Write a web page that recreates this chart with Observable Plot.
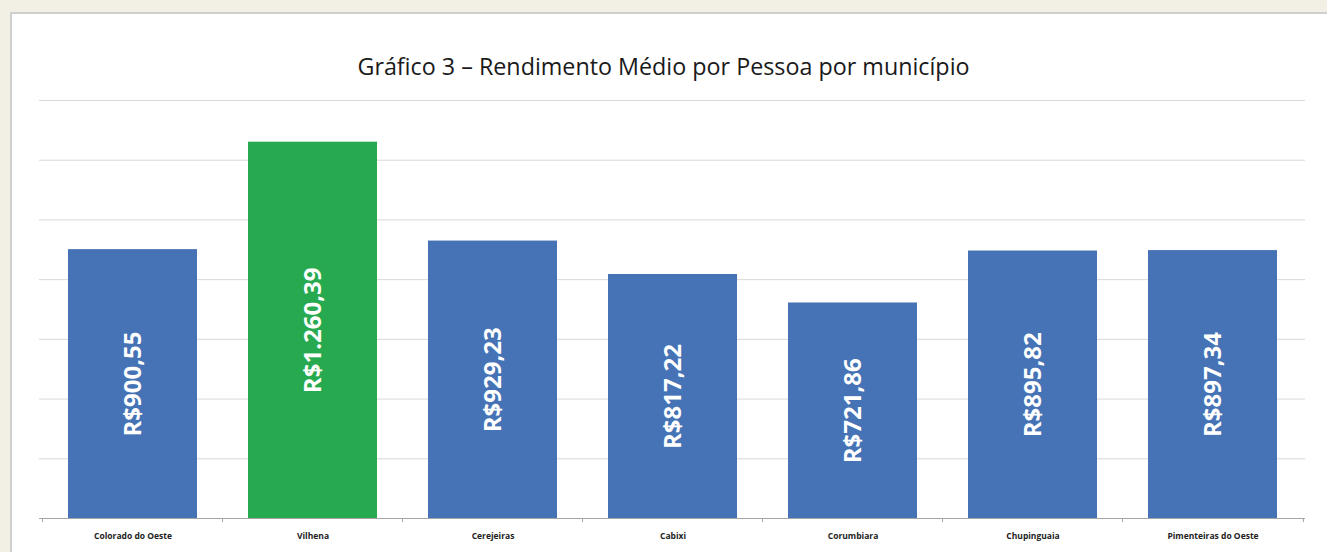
<!DOCTYPE html>
<html><head><meta charset="utf-8">
<script src="https://cdn.jsdelivr.net/npm/d3@7"></script>
<script src="https://cdn.jsdelivr.net/npm/@observablehq/plot@0.6"></script>
<style>
html,body{margin:0;padding:0;background:#f2efe4;width:1327px;height:552px;overflow:hidden;}
#panel{position:absolute;left:10px;top:12px;width:1330px;height:560px;background:#fff;border-left:2px solid #cfcfcf;border-top:2px solid #cfcfcf;}
#title{position:absolute;left:0;top:50px;width:1327px;text-align:center;font:23.3px "Open Sans",sans-serif;color:#1a1a1a;}
#chart{position:absolute;left:0;top:0;}
</style></head><body>
<div id="panel"></div>
<div id="title">Gráfico 3 – Rendimento Médio por Pessoa por município</div>
<div id="chart"></div>
<script>
const municipios = ["Colorado do Oeste","Vilhena","Cerejeiras","Cabixi","Corumbiara","Chupinguaia","Pimenteiras do Oeste"];
const rendimentos = [900.55, 1260.39, 929.23, 817.22, 721.86, 895.82, 897.34];
const yTicks = [200, 400, 600, 800, 1000, 1200, 1400];
const destaque = "Vilhena";

const data = municipios.map((m, i) => ({municipio: m, valor: rendimentos[i]}));
const brl = d3.formatLocale({decimal: ",", thousands: ".", grouping: [3], currency: ["R$", ""]}).format("$,.2f");

const W = 1327, H = 552, ML = 39, MR = 22, MT = 100, MB = 34;
const step = (W - ML - MR) / municipios.length;
const pad = 0.286;

const chart = Plot.plot({
  width: W, height: H,
  marginLeft: ML, marginRight: MR, marginTop: MT, marginBottom: MB,
  style: {fontFamily: "'Open Sans', sans-serif", background: "transparent", overflow: "visible"},
  x: {domain: municipios, paddingInner: pad, paddingOuter: pad / 2, label: null},
  y: {domain: [0, 1400], axis: null},
  marks: [
    Plot.ruleY(yTicks, {stroke: "#d9d9d9", strokeWidth: 1}),
    Plot.barY(data, {x: "municipio", y: "valor", fill: d => d.municipio === destaque ? "#26a94f" : "#4673b5"}),
    Plot.ruleY([0], {stroke: "#a6a6a6", strokeWidth: 1.2}),
    Plot.ruleX(municipios, {x: d => d, y1: 0, y2: -14, dx: -step / 2, stroke: "#a6a6a6"}),
    Plot.ruleX([municipios[municipios.length - 1]], {x: d => d, y1: 0, y2: -14, dx: step / 2, stroke: "#a6a6a6"}),
    Plot.text(data, {x: "municipio", y: d => d.valor / 2, text: d => brl(d.valor), rotate: -90, fill: "white", fontSize: 24, fontWeight: "bold"}),
    Plot.axisX({tickSize: 0, tickPadding: 14, fontSize: 8.5, fontWeight: "bold", fill: "#222", label: null})
  ]
});
document.getElementById("chart").appendChild(chart);
</script>
</body></html>
